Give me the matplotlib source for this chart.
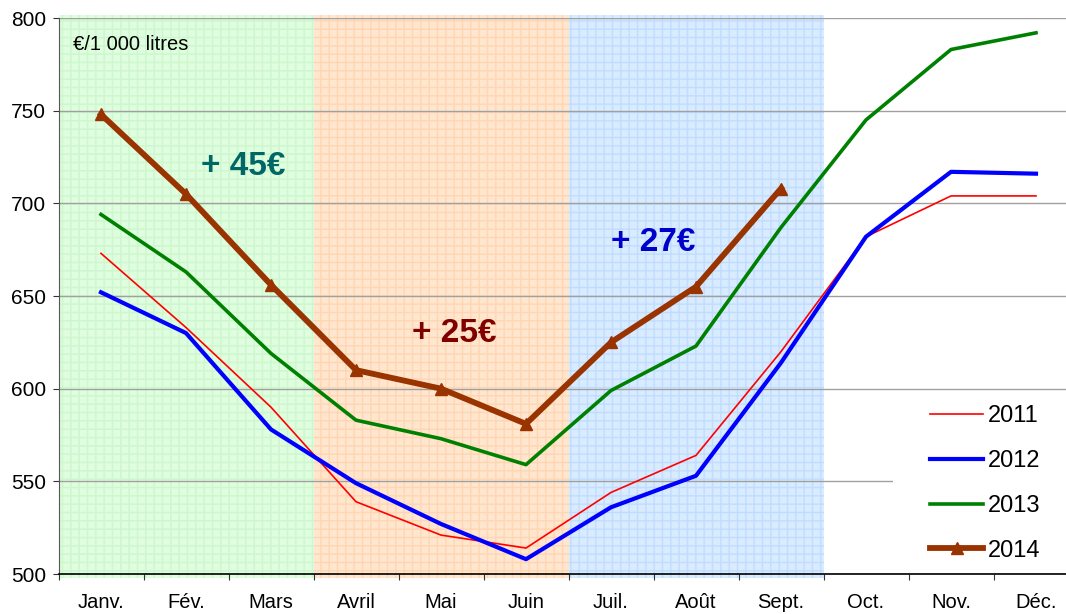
import matplotlib
matplotlib.use("Agg")
import matplotlib.pyplot as plt
from matplotlib.patches import Rectangle

plt.rcParams['font.family'] = ['Liberation Sans', 'DejaVu Sans']
plt.rcParams['hatch.linewidth'] = 1.0

months = ["Janv.", "Fév.", "Mars", "Avril", "Mai", "Juin",
          "Juil.", "Août", "Sept.", "Oct.", "Nov.", "Déc."]

prix_2011 = [673, 633, 590, 539, 521, 514, 544, 564, 620, 682, 704, 704]
prix_2012 = [652, 630, 578, 549, 527, 508, 536, 553, 614, 682, 717, 716]
prix_2013 = [694, 663, 619, 583, 573, 559, 599, 623, 687, 745, 783, 792]
prix_2014 = [748, 705, 656, 610, 600, 581, 625, 655, 708]

# periods shaded (index of first and last month) and the gain written in each
periods = [(0, 2), (3, 5), (6, 8)]
period_fill = ["#dffddf", "#ffe6ce", "#d8ebff"]
period_hatch = ["#cdf7cd", "#ffd5b3", "#c0dcff"]
gains = ["+ 45€", "+ 25€", "+ 27€"]
gain_colors = ["#006666", "#800000", "#0000cc"]
gain_pos = [(1.67, 720), (4.15, 630), (6.5, 679)]

fig = plt.figure(figsize=(10.66, 6.14), dpi=100)
ax = fig.add_axes([58.5 / 1066, 40 / 614, 1020 / 1066, 556 / 614])

x = list(range(len(months)))

for (a, b), fc, hc in zip(periods, period_fill, period_hatch):
    ax.axvspan(a - 0.5, b + 0.5, ymin=-0.007, ymax=1.005, facecolor=fc,
               edgecolor=hc, hatch="++", linewidth=0, zorder=0, clip_on=False)

ax.set_ylim(500, 800)
ax.set_xlim(-0.5, 11.5)
ax.set_yticks(range(500, 801, 50))
ax.yaxis.grid(True, color="#a0a0a0", linewidth=1.0, zorder=1)
ax.set_axisbelow(True)

ax.plot(x, prix_2011, color="#ff0000", linewidth=1.2, label="2011", zorder=3)
ax.plot(x, prix_2012, color="#0000ff", linewidth=3.0, label="2012", zorder=3)
ax.plot(x, prix_2013, color="#008000", linewidth=2.6, label="2013", zorder=3)
ax.plot(x[:len(prix_2014)], prix_2014, color="#993300", linewidth=4.2,
        marker="^", markersize=9, label="2014", zorder=4)

for txt, col, (gx, gy) in zip(gains, gain_colors, gain_pos):
    ax.text(gx, gy, txt, color=col, fontsize=24, fontweight="bold",
            ha="center", va="center", zorder=5)

ax.text(73 / 1066, 1 - 45 / 614, "€/1 000 litres", transform=fig.transFigure,
        fontsize=14.5, ha="left", va="center")

# ticks at month boundaries, labels centred on months
ax.set_xticks([i - 0.5 for i in range(13)])
ax.set_xticklabels([])
ax.set_xticks(x, minor=True)
ax.set_xticklabels(months, minor=True, fontsize=14.5)
ax.tick_params(axis="x", which="major", direction="out", length=4, color="#333333")
ax.tick_params(axis="x", which="minor", length=0, pad=14)
ax.tick_params(axis="y", direction="out", length=4, pad=5, labelsize=15,
               color="#333333")

for s in ["top", "right"]:
    ax.spines[s].set_visible(False)
ax.spines["left"].set_color("#555555")
ax.spines["bottom"].set_color("#000000")
ax.spines["bottom"].set_linewidth(1.2)

# white background behind the legend
ax.add_patch(Rectangle((0.818, 0.01), 0.25, 0.31, transform=ax.transAxes,
                       facecolor="white", edgecolor="none", zorder=2))

leg = ax.legend(loc="upper left", bbox_to_anchor=(930 / 1066, 1 - 405 / 614),
                bbox_transform=fig.transFigure, frameon=False, fontsize=17,
                handlelength=2.25, handletextpad=0.2, labelspacing=0.97,
                borderpad=0, borderaxespad=0)

fig.savefig("out.png", dpi=100)
